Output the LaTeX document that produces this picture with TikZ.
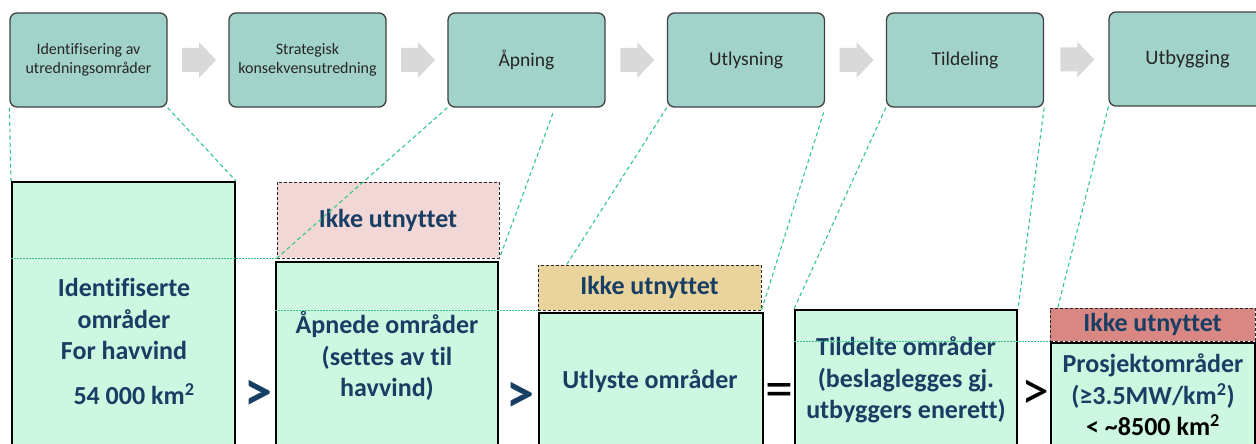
\documentclass[tikz,border=0pt]{standalone}
\usepackage{fontspec}
\setmainfont[Ligatures=NoCommon]{Carlito}
\usepackage{tikz}
\usetikzlibrary{calc}
\definecolor{prosessgronn}{RGB}{162,211,202}
\definecolor{omraadegronn}{RGB}{205,247,224}
\definecolor{ikkerosa}{RGB}{242,215,215}
\definecolor{ikkegul}{RGB}{232,212,156}
\definecolor{ikkerod}{RGB}{217,135,130}
\definecolor{tekstblaa}{RGB}{24,62,100}
\definecolor{linjegronn}{RGB}{50,200,135}
\definecolor{pilgraa}{RGB}{217,217,217}

\begin{document}
\begin{tikzpicture}[x=1pt,y=-1pt,
    prosess/.style={rectangle,rounded corners=7pt,draw=black!75,fill=prosessgronn,line width=1.3pt,minimum width=157pt,minimum height=94pt,inner sep=0pt,align=center,text=black!85},
    omraade/.style={rectangle,draw=black,fill=omraadegronn,line width=2pt,inner sep=0pt},
    ikke/.style={rectangle,draw=black!85,dash pattern=on 3pt off 2pt,line width=0.8pt,inner sep=0pt},
    tekst/.style={font=\fontsize{26}{31.5}\selectfont\bfseries,text=tekstblaa,align=center},
    tegn/.style={font=\fontsize{56}{56}\selectfont,inner sep=0pt},
    forb/.style={linjegronn,line width=1.1pt,dash pattern=on 4pt off 3pt},
    prikk/.style={linjegronn,line width=0.9pt,dash pattern=on 1.5pt off 1.5pt}]
    \clip (0,0) rectangle (1256,444);

    % Prosessbokser
    \node[prosess,font=\fontsize{16}{18.5}\selectfont] (p1) at (88.5,60) {Identifisering av\\utredningsområder};
    \node[prosess,font=\fontsize{16}{18.5}\selectfont] (p2) at (307.5,60) {Strategisk\\konsekvensutredning};
    \node[prosess,font=\fontsize{19.5}{22}\selectfont] (p3) at (526.5,60) {Åpning};
    \node[prosess,font=\fontsize{19.5}{22}\selectfont] (p4) at (746,60) {Utlysning};
    \node[prosess,font=\fontsize{19.5}{22}\selectfont] (p5) at (965,60) {Tildeling};
    \node[prosess,font=\fontsize{20.5}{22}\selectfont] (p6) at (1187.5,59) {Utbygging};

    % Piler
    \foreach \fra/\til [count=\i] in {p1/p2,p2/p3,p3/p4,p4/p5,p5/p6} {
        \coordinate (pil\i) at ($(\fra.east)!0.5!(\til.west)+(1,0)$);
        \fill[pilgraa] ($(pil\i)+(-17,-12)$) -- ++(17,0) -- ++(0,-6) -- ++(17,18)
            -- ++(-17,18) -- ++(0,-6) -- ++(-17,0) -- cycle;
    }

    % Arealbokser
    \node[omraade,minimum width=223pt,minimum height=278pt] (o1) at (123.5,321) {};
    \node[omraade,minimum width=222pt,minimum height=198pt] (o2) at (387,361) {};
    \node[omraade,minimum width=224pt,minimum height=147pt] (o3) at (651,386.5) {};
    \node[omraade,minimum width=222pt,minimum height=150pt] (o4) at (906,385) {};
    \node[omraade,minimum width=204pt,minimum height=117pt] (o5) at (1153,401.5) {};

    % Ikke utnyttet
    \node[ikke,fill=ikkerosa,minimum width=222pt,minimum height=76pt] (u1) at (388,220) {};
    \node[ikke,fill=ikkegul,minimum width=223pt,minimum height=45pt] (u2) at (649.5,287.5) {};
    \node[ikke,fill=ikkerod,minimum width=205pt,minimum height=33pt] (u3) at (1152.5,324.5) {};

    % Tekster
    \node[tekst] (t1) at (124,319) {Identifiserte\\områder\\For havvind};
    \node[tekst] (t1b) at (134,394) {54 000 km\textsuperscript{2}};
    \node[tekst] (tu1) at (u1) {Ikke utnyttet};
    \node[tekst] (t2) at (387,356) {Åpnede områder\\(settes av til\\havvind)};
    \node[tekst] (tu2) at (u2) {Ikke utnyttet};
    \node[tekst] (t3) at (650,381) {Utlyste områder};
    \node[tekst] (t4) at (906,380) {Tildelte områder\\(beslaglegges gj.\\utbyggers enerett)};
    \node[tekst] (tu3) at (u3) {Ikke utnyttet};
    \node[tekst] (t5) at (1153,395) {Prosjektområder\\(≥3.5MW/km\textsuperscript{2})\\{\color{black}< \textasciitilde8500 km\textsuperscript{2}}};

    % Sammenligning
    \node[tegn,text=tekstblaa,font=\fontsize{56}{56}\selectfont\bfseries] (g1) at (258,395) {>};
    \node[tegn,text=tekstblaa,font=\fontsize{56}{56}\selectfont\bfseries] (g2) at (520,397) {>};
    \node[tegn] (g3) at (779,395) {=};
    \node[tegn] (g4) at (1035,395) {>};

    % Forbindelser
    \draw[forb] (p1.south west) -- (o1.north west);
    \draw[forb] (p1.south east) -- (o1.north east);
    \draw[forb] (p3.south west) -- (u1.south west);
    \draw[forb,shorten <=6pt] ($(p3.south)!0.36!(p3.south east)$) -- (u1.south east);
    \draw[forb] (p4.south west) -- ($(u2.north west)!0.13!(u2.north east)$);
    \draw[forb,shorten <=5pt] (p4.south east) -- (u2.south east);
    \draw[forb] (p5.south west) -- (o4.north west);
    \draw[forb] (p5.south east) -- (o4.north east);
    \draw[forb] (p6.south west) -- ($(u3.north west)!0.04!(u3.north east)$);
    \draw[prikk] (o1.west |- u1.south) -- (u1.south west);
    \draw[prikk] (o2.west |- u2.south) -- (u2.south west);
    \draw[prikk] (o4.west |- u3.south) -- (u3.south west);
\end{tikzpicture}
\end{document}
